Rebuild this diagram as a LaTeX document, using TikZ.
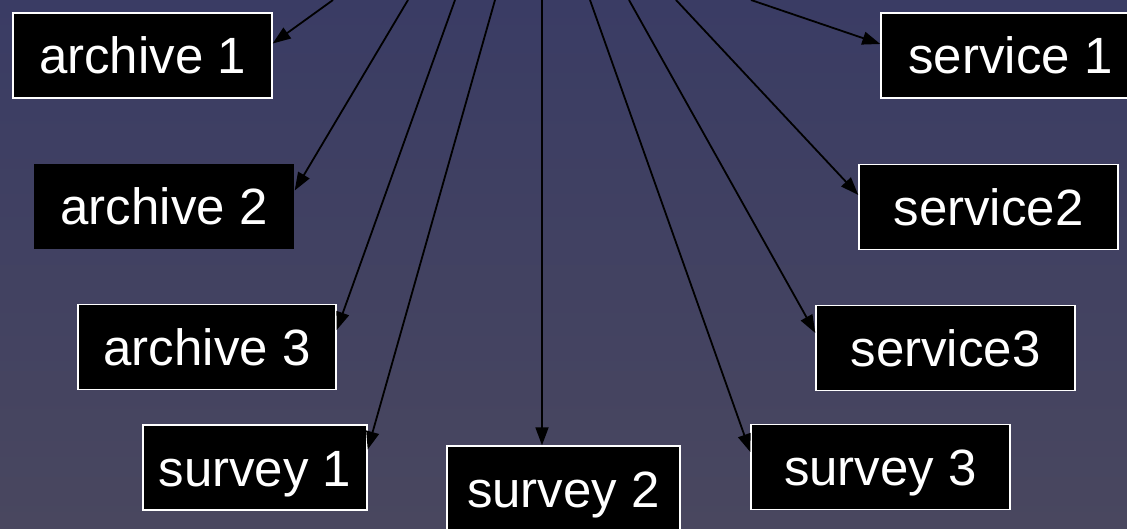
\documentclass[tikz,border=0pt]{standalone}
\usepackage{fontspec}
\setmainfont{Liberation Sans}
\usetikzlibrary{arrows.meta}
\definecolor{bgtop}{RGB}{58,60,100}
\definecolor{bgbot}{RGB}{73,71,95}
\begin{document}
\begin{tikzpicture}[x=1pt,y=-1pt,
  box/.style={fill=black, draw=white, line width=1.4pt, text=white,
    minimum height=85pt, inner sep=0pt, text height=37pt, text depth=0pt,
    font=\fontsize{51pt}{60pt}\selectfont},
  plainbox/.style={box, draw=none},
  conn/.style={draw=black, line width=1.8pt, -{Triangle[length=18pt,width=13pt]}}]
\useasboundingbox (0,0) rectangle (1127,529);
\clip (0,0) rectangle (1127,529);
\shade[top color=bgtop, bottom color=bgbot] (0,0) rectangle (1127,529);

\node[box, minimum width=259pt] (a1) at (142.5,55.5) {archive 1};
\node[plainbox, minimum width=260pt] (a2) at (164,206.5) {archive 2};
\node[box, minimum width=258pt] (a3) at (207,347) {archive 3};
\node[box, minimum width=224pt] (s1) at (255,467.5) {survey 1};
\node[box, minimum width=233pt] (s2) at (563.5,488.5) {survey 2};
\node[box, minimum width=259pt] (s3) at (880.5,467) {survey 3};
\node[box, minimum width=259pt] (v3) at (945.5,348) {service3};
\node[box, minimum width=259pt] (v2) at (988.5,207) {service2};
\node[box, minimum width=259pt] (v1) at (1010.5,55.5) {service 1};

\coordinate (t1) at (333,0);
\coordinate (t2) at (408,0);
\coordinate (t3) at (455,0);
\coordinate (t4) at (495,0);
\coordinate (t5) at (542,0);
\coordinate (t6) at (590,0);
\coordinate (t7) at (629,0);
\coordinate (t8) at (676,0);
\coordinate (t9) at (751,0);

\draw[conn] (t1) -- ([yshift=12pt]a1.east);
\draw[conn] (t2) -- ([yshift=16pt]a2.east);
\draw[conn] (t3) -- ([yshift=17pt]a3.east);
\draw[conn] (t4) -- ([yshift=18pt]s1.east);
\draw[conn] (t5) -- ([xshift=-21.5pt]s2.north);
\draw[conn] (t6) -- ([yshift=15pt]s3.west);
\draw[conn] (t7) -- ([yshift=15pt]v3.west);
\draw[conn] (t8) -- ([yshift=12pt]v2.west);
\draw[conn] (t9) -- ([yshift=11.5pt]v1.west);
\end{tikzpicture}
\end{document}
